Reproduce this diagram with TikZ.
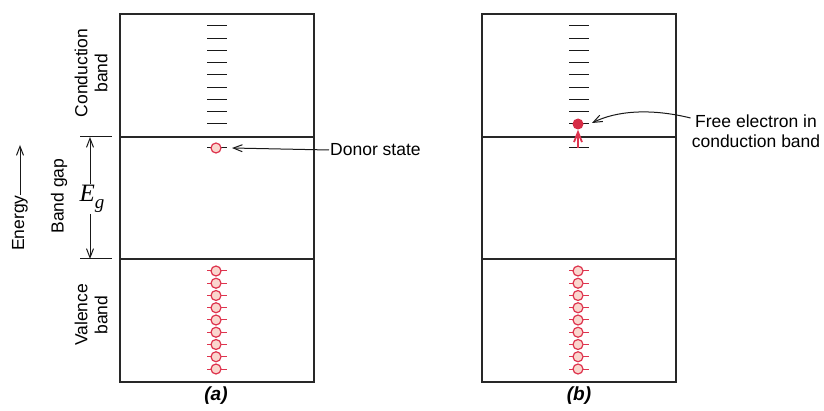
\documentclass[tikz,border=0pt]{standalone}
\usepackage{fontspec}
\setmainfont{Liberation Sans}
\newfontfamily\serifit{Liberation Serif}
\usetikzlibrary{arrows.meta}
\definecolor{edge}{RGB}{40,40,40}
\definecolor{redline}{RGB}{222,52,78}
\definecolor{pinkfill}{RGB}{250,214,206}
\definecolor{elec}{RGB}{214,44,70}
\definecolor{lvl}{RGB}{25,25,25}
\tikzset{
  box/.style={draw=edge,line width=1.5pt},
  level/.style={draw=lvl,line width=1pt},
  redlevel/.style={draw=redline,line width=1pt},
  state/.style={circle,draw=redline,fill=pinkfill,line width=1.2pt,inner sep=0pt,minimum size=10pt},
  freeel/.style={circle,fill=elec,inner sep=0pt,minimum size=11pt},
  lbl/.style={font=\fontsize{17.5}{20}\selectfont,inner sep=1pt},
  barb/.style={-{Straight Barb[length=9pt,width=7pt]},line width=1pt},
}
\begin{document}
\begin{tikzpicture}[x=1pt,y=-1pt]
\useasboundingbox (0,0) rectangle (824,411);
% boxes
\foreach \L/\R in {120/314,482/676}{
  \draw[box] (\L,14) rectangle (\R,382);
  \draw[box] (\L,137) -- (\R,137);
  \draw[box] (\L,259) -- (\R,259);
}
% conduction levels
\foreach \i in {0,...,8}{
  \draw[level] (207,{26+\i*12.25}) -- (227,{26+\i*12.25});
  \draw[level] (569,{26+\i*12.25}) -- (589,{26+\i*12.25});
}
% valence states
\foreach \i in {0,...,8}{
  \draw[redlevel] (207,{271+\i*12.25}) -- (227,{271+\i*12.25});
  \node[state] (va\i) at (216,{271+\i*12.25}) {};
  \draw[redlevel] (569,{271+\i*12.25}) -- (589,{271+\i*12.25});
  \node[state] (vb\i) at (578,{271+\i*12.25}) {};
}
% (a) donor state
\draw[level] (207,148) -- (227,148);
\node[state] (donA) at (216,148) {};
\node[lbl,anchor=west] (donor) at (329,150) {Donor state};
\coordinate (donTip) at (232,148);
\draw[barb,draw=lvl] (donor.west) -- (donTip);
% (b) excited electron
\draw[level] (569,148) -- (589,148);
\coordinate (donB) at (578,148);
\node[freeel] (el) at (578,124) {};
\draw[-{Straight Barb[length=10pt,width=8pt]},draw=redline,line width=1.8pt] (donB) -- (el.south);
\node[lbl,align=center] (free) at (756,131) {Free electron in\\conduction band};
\coordinate (freeTip) at (592,123);
\draw[barb,draw=lvl] (free.west |- 0,118) .. controls (650,108) and (616,111) .. (freeTip);
% band gap arrow
\draw[level] (80,137) -- (112,137);
\draw[level] (80,259) -- (112,259);
\node[font=\fontsize{25}{26}\selectfont,inner sep=1pt] (eg) at (92,199) {\serifit\itshape E\raisebox{-0.28em}{\fontsize{19}{19}\selectfont g}};
\coordinate (gTop) at (90,137);
\coordinate (gBot) at (90,259);
\draw[barb,draw=lvl] (eg.north -| gTop) -- (gTop);
\draw[barb,draw=lvl] (eg.south -| gBot) -- (gBot);
% side labels
\node[lbl,rotate=90,align=center] (cb) at (91,73) {Conduction\\band};
\node[lbl,rotate=90,align=center] (vb) at (91,315) {Valence\\band};
\node[lbl,rotate=90] (bg) at (59,196) {Band gap};
\node[lbl,rotate=90] (en) at (20,223) {Energy};
\coordinate (enTop) at (20,145);
\coordinate (enBot) at (20,195);
\draw[barb,draw=lvl] (enBot) -- (enTop);
% captions
\node[inner sep=1pt,font=\fontsize{19}{20}\selectfont\bfseries\itshape] (capa) at (216,396) {(a)};
\node[inner sep=1pt,font=\fontsize{19}{20}\selectfont\bfseries\itshape] (capb) at (579,396) {(b)};
\end{tikzpicture}
\end{document}
